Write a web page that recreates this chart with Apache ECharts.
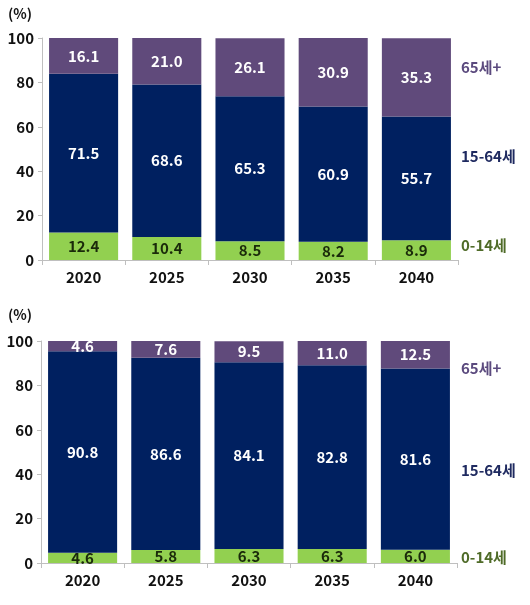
<!DOCTYPE html>
<html><head><meta charset="utf-8">
<script src="https://cdn.jsdelivr.net/npm/echarts@6/dist/echarts.min.js"></script>
<style>html,body{margin:0;padding:0;background:#fff}#c{width:530px;height:605px}</style>
</head><body><div id="c"></div>
<script>
const years = ['2020','2025','2030','2035','2040'];
const seriesNames = ['0-14세','15-64세','65세+'];
const top_child = [12.4, 10.4, 8.5, 8.2, 8.9];
const top_work = [71.5, 68.6, 65.3, 60.9, 55.7];
const top_old = [16.1, 21.0, 26.1, 30.9, 35.3];
const bot_child = [4.6, 5.8, 6.3, 6.3, 6.0];
const bot_work = [90.8, 86.6, 84.1, 82.8, 81.6];
const bot_old = [4.6, 7.6, 9.5, 11.0, 12.5];
const yTicks = [0, 20, 40, 60, 80, 100];

const FONT = '"Noto Sans CJK KR", "Noto Sans", sans-serif';
const colors = ['#92d050', '#002060', '#604a7b'];
const labelColors = ['#1a2a0a', '#ffffff', '#ffffff'];
const sideColors = ['#4f6b28', '#1f2a60', '#5b4a7e'];

const grids = [
  {left: 42, top: 38, width: 416, height: 222},
  {left: 41, top: 341, width: 416, height: 222}
];
function xAxis(i){
  return {type:'category', gridIndex:i, data:years,
    axisLine:{lineStyle:{color:'#bfbfbf'}},
    axisTick:{show:true, alignWithLabel:false, length:5, lineStyle:{color:'#bfbfbf'}},
    axisLabel:{color:'#111', fontWeight:'bold', fontSize:15, fontFamily:FONT, margin:10}};
}
function yAxis(i){
  return {type:'value', gridIndex:i, min:yTicks[0], max:yTicks[yTicks.length-1], interval:20,
    axisLine:{show:true, lineStyle:{color:'#bfbfbf'}},
    axisTick:{show:true, length:4, lineStyle:{color:'#bfbfbf'}},
    splitLine:{show:false},
    axisLabel:{color:'#111', fontWeight:'bold', fontSize:15, fontFamily:FONT, margin:8}};
}
const sets = [[top_child, top_work, top_old],[bot_child, bot_work, bot_old]];
const series = [];
sets.forEach((set, g) => {
  set.forEach((vals, k) => {
    series.push({
      type:'bar', name:seriesNames[k], xAxisIndex:g, yAxisIndex:g, stack:'s'+g,
      data: vals, barWidth:'83%',
      itemStyle:{color:colors[k]},
      label:{show:true, position:'inside', color:labelColors[k], fontSize:15, fontWeight:'bold', fontFamily:FONT,
        formatter: p => p.value.toFixed(1)}
    });
  });
});
const sideLabels = [
  {text:'65세+', top:69, k:2},{text:'15-64세', top:158, k:1},{text:'0-14세', top:247, k:0},
  {text:'65세+', top:370, k:2},{text:'15-64세', top:472, k:1},{text:'0-14세', top:559, k:0}
];
const graphic = sideLabels.map(s => ({type:'text', left:461, top:s.top-9,
  style:{text:s.text, fill:sideColors[s.k], font:'bold 15px '+FONT}}));
graphic.push({type:'text', left:8, top:7, style:{text:'(%)', fill:'#111', font:'bold 14px '+FONT}});
graphic.push({type:'text', left:8, top:308, style:{text:'(%)', fill:'#111', font:'bold 14px '+FONT}});

const chart = echarts.init(document.getElementById('c'));
chart.setOption({
  animation:false,
  grid: grids,
  xAxis:[xAxis(0), xAxis(1)],
  yAxis:[yAxis(0), yAxis(1)],
  series: series,
  graphic: graphic
});
</script></body></html>
